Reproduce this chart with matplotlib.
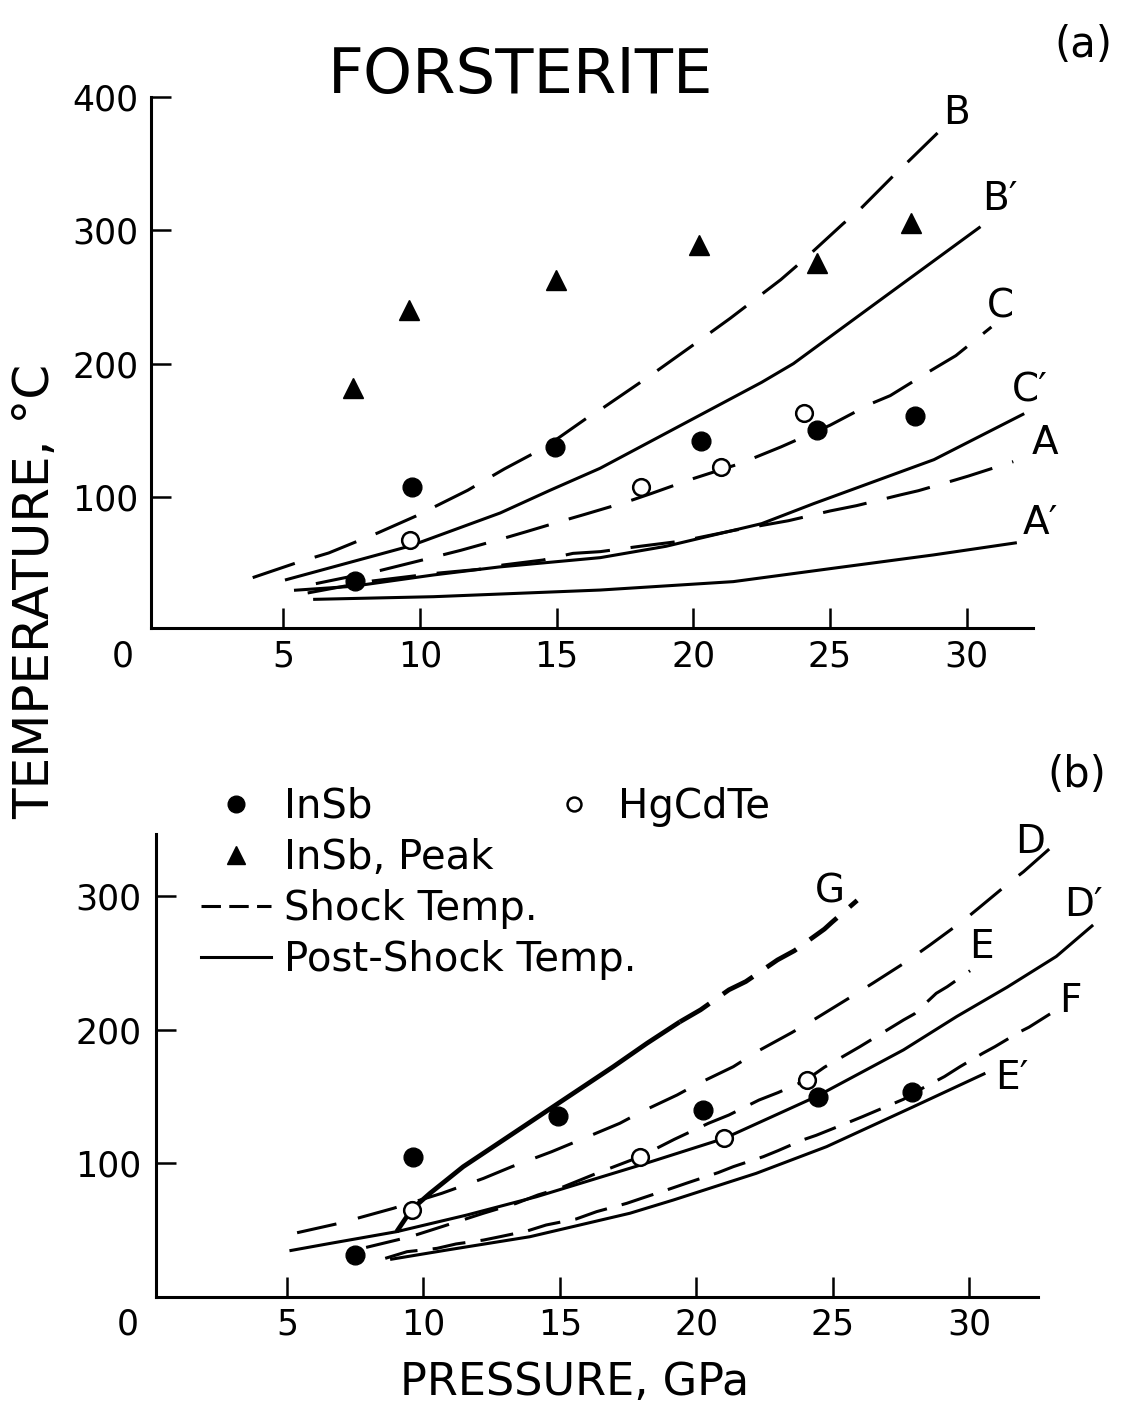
import matplotlib
matplotlib.use("Agg")
import matplotlib.pyplot as plt
from matplotlib.lines import Line2D

plt.rcParams['font.family'] = ['DejaVu Sans']
plt.rcParams['lines.scale_dashes'] = False

# ---------------- data ----------------
pressure_ticks = [5, 10, 15, 20, 25, 30]
temp_ticks_a = [100, 200, 300, 400]
temp_ticks_b = [100, 200, 300]

# panel (a) measurements
a_insb_p = [7.63, 9.70, 14.94, 20.27, 24.54, 28.10]
a_insb_t = [37, 107.7, 137.3, 142.2, 150.2, 160.7]
a_hgcdte_p = [9.64, 18.07, 21.03, 24.06]
a_hgcdte_t = [67.7, 107.7, 122.3, 163.2]
a_peak_p = [7.57, 9.60, 14.98, 20.20, 24.54, 27.96]
a_peak_t = [181.5, 240.2, 262.7, 289.0, 275.2, 305.2]

# panel (a) curves
B_p = [3.89, 5.66, 6.67, 8.46, 9.86, 11.75, 13.09, 14.6, 16.08, 16.57, 18.46, 20.25,
       21.35, 23.2, 24.1, 25.48, 26.06, 27.49, 27.83, 28.93]
B_t = [39.5, 51.8, 58, 73, 85.7, 105, 121, 137.5, 158.8, 165, 191.5, 217.7,
       234, 263, 279, 305, 315, 344.5, 351, 373]
Bp_p = [5.07, 9.64, 12.94, 14.76, 16.59, 22.5, 23.66, 26.5, 28.5, 30.5]
Bp_t = [37.7, 63.2, 88, 105, 121.5, 186, 200, 242.7, 272.7, 302.7]
C_p = [6.2, 8.58, 10.15, 11.5, 12.9, 13.9, 15.2, 16.04, 17.55, 18.45, 20.0, 21.7,
       23.2, 25.0, 26.5, 27.2, 28.7, 29.6, 30.9]
C_t = [35, 45, 53, 60, 68, 74, 82, 87, 96.2, 102.5, 113.8, 125,
       137.5, 153.8, 170, 176, 195, 206, 227.5]
Cp_p = [5.4, 7.55, 10.5, 12.9, 16.6, 19.0, 22.5, 24.4, 28.8, 32.1]
Cp_t = [30, 33, 41.5, 47.5, 54.5, 63, 80, 95, 128, 162.5]
A_p = [5.9, 8.27, 9.68, 10.56, 12.14, 13.05, 14.5, 15.6, 16.6, 18.05, 19.6, 21.5,
       23.48, 25.0, 25.97, 27.56, 28.23, 29.57, 30.06, 31.7]
A_t = [28, 37, 40.5, 42.7, 45.7, 49, 52.7, 57.7, 59, 63, 67, 75,
       82.2, 89.5, 93.5, 101.5, 104.7, 112.7, 115.7, 126.5]
Ap_p = [6.1, 10.5, 16.6, 21.46, 25.1, 28.77, 31.83]
Ap_t = [23.2, 25.2, 30.2, 36.5, 46.5, 56.5, 65.7]

# panel (b) measurements
b_insb_p = [7.51, 9.62, 14.95, 20.24, 24.47, 27.92]
b_insb_t = [31.3, 104.5, 135.5, 140, 149.5, 153.7]
b_hgcdte_p = [9.58, 17.95, 21.03, 24.06]
b_hgcdte_t = [65, 105, 118.7, 162.4]

# panel (b) curves
G_solid_p = [9.02, 9.57, 10.24, 11.46, 12.93, 15.13, 16.96, 18.2, 19.4]
G_solid_t = [48.8, 65.5, 77.5, 97.5, 117.5, 147.5, 172.4, 190, 206]
G_dash_p = [19.4, 20.16, 21.2, 21.82, 22.98, 23.6, 24.7, 24.98, 25.9]
G_dash_t = [206, 215, 230, 236.2, 252.4, 259.3, 275.5, 280.7, 297]
D_p = [5.37, 6.9, 7.43, 8.9, 10.67, 12.2, 13.24, 14.7, 15.74, 17.2, 18.0, 19.3, 20.0,
       21.36, 22.3, 23.5, 24.4, 25.65, 26.5, 27.7, 28.57, 29.85, 30.34, 31.46, 32.0, 32.97]
D_t = [48, 55, 58, 66.3, 77.5, 88.7, 97.5, 108.7, 117.5, 130, 138.7, 151.2, 159,
       172.4, 184.5, 197.9, 208.7, 224.4, 235.3, 251, 263.6, 282.8, 291, 310, 318.5, 336]
Dp_p = [5.09, 6.58, 9.02, 11.6, 14.15, 18.0, 21.03, 24.4, 27.6, 29.55, 31.4, 33.2, 34.55]
Dp_t = [34.5, 40, 48.8, 61.3, 75, 99, 118.7, 150, 185, 210, 232, 255, 278.6]
E_p = [7.9, 9.52, 10.67, 12.2, 13.4, 14.2, 15.0, 16.35, 17.95, 19.2, 20.45, 21.2, 22.3,
       23.0, 24.0, 24.7, 26.0, 26.4, 27.6, 28.0, 28.8, 29.2, 30.04]
E_t = [37, 45, 52.5, 62.6, 70, 76.3, 81.3, 92.5, 105, 118, 130, 136.2, 147.4,
       153, 162, 172, 187.4, 192.4, 207.4, 212, 227.4, 232.3, 244.3]
F_p = [8.6, 9.4, 10.5, 11.2, 12.2, 12.8, 13.8, 14.5, 15.6, 16.35, 17.45, 18.0, 19.1,
       19.7, 20.8, 21.36, 22.46, 23.0, 23.9, 24.4, 25.5, 26.1, 27.6, 28.27, 29.1,
       29.67, 30.5, 30.95, 31.87, 32.2, 33.1]
F_t = [28.8, 33.8, 36.3, 39.6, 42.5, 45, 49.3, 53.8, 58.3, 63.8, 70, 73.8, 81.3,
       85.5, 93, 97.5, 105, 109.5, 117.5, 121, 130, 135, 148, 156, 165,
       172.4, 182.4, 187.4, 198.6, 202, 213.6]
Ep_p = [8.78, 10.85, 13.9, 17.57, 19.16, 21.24, 22.2, 24.78, 27.96, 30.6]
Ep_t = [28, 35, 45, 62.6, 72.5, 86.2, 92.5, 112.5, 142.4, 167.5]

# curve labels (text, pressure, temperature)
labels_a = [("B", 29.64, 387.7), ("B\u2032", 31.2, 323.5), ("C", 31.24, 242.7),
            ("C\u2032", 32.31, 180.2), ("A", 32.86, 140.3), ("A\u2032", 32.68, 80.2)]
labels_b = [("G", 24.9, 303.5), ("D", 32.24, 341), ("D\u2032", 34.19, 293.5),
            ("E", 30.47, 261.9), ("F", 33.7, 221.8), ("E\u2032", 31.57, 163.7)]

# ---------------- figure ----------------
W, H = 1141, 1410
fig = plt.figure(figsize=(W / 100, H / 100), dpi=100)


def make_axes(ox, oy, sx, sy, xlim, ylim):
    left = (ox + xlim[0] * sx) / W
    bottom = (H - oy + ylim[0] * sy) / H
    width = (xlim[1] - xlim[0]) * sx / W
    height = (ylim[1] - ylim[0]) * sy / H
    ax = fig.add_axes([left, bottom, width, height])
    ax.set_xlim(*xlim)
    ax.set_ylim(*ylim)
    ax.patch.set_visible(False)
    return ax


LW = 2.2
DASH_A = (0, (32, 15))
TICKFS = 25
LABFS = 28
LEGFS = 29

axa = make_axes(146.3, 630.3, 27.35, 1.3333, (0, 35), (0, 410))
axb = make_axes(150.6, 1296.8, 27.28, 1.3347, (0, 35.5), (0, 350))


def style_axes(ax, xspine_at, yspine_at, ytop, xend, ypad, xpad, yticks):
    ax.spines['top'].set_visible(False)
    ax.spines['right'].set_visible(False)
    for s in ['left', 'bottom']:
        ax.spines[s].set_linewidth(2.2)
    ax.spines['left'].set_position(('data', yspine_at))
    ax.spines['left'].set_bounds(xspine_at, ytop)
    ax.spines['bottom'].set_position(('data', xspine_at))
    ax.spines['bottom'].set_bounds(yspine_at, xend)
    ax.set_xticks(pressure_ticks)
    ax.set_yticks(yticks)
    ax.tick_params(direction='in', length=14.5, width=1.8, labelsize=TICKFS)
    ax.tick_params(axis='y', pad=ypad)
    ax.tick_params(axis='x', pad=xpad)


style_axes(axa, 1.7, 0.17, 400, 32.42, 9, 8.0, temp_ticks_a)
style_axes(axb, 0.0, 0.18, 346.7, 32.54, 10, 8.0, temp_ticks_b)
axa.text(-0.85, -20, "0", fontsize=TICKFS, ha='center', va='center')
axb.text(-0.85, -21, "0", fontsize=TICKFS, ha='center', va='center')


def curve(ax, p, t, dashed=True, lw=LW, dash=DASH_A):
    ax.plot(p, t, color='black', lw=lw, linestyle=dash if dashed else '-',
            solid_capstyle='butt', dash_capstyle='butt', clip_on=False, zorder=2)


# panel (a) curves
curve(axa, B_p, B_t)
curve(axa, Bp_p, Bp_t, dashed=False)
curve(axa, C_p, C_t)
curve(axa, Cp_p, Cp_t, dashed=False)
curve(axa, A_p, A_t)
curve(axa, Ap_p, Ap_t, dashed=False)

# panel (b) curves
curve(axb, G_solid_p, G_solid_t, dashed=False, lw=3.4)
curve(axb, G_dash_p, G_dash_t, lw=3.4, dash=(0, (25, 12)))
curve(axb, D_p, D_t, dash=(0, (29, 16)))
curve(axb, Dp_p, Dp_t, dashed=False)
curve(axb, E_p, E_t, dash=(0, (25, 12)))
curve(axb, F_p, F_t, dash=(0, (24, 11)))
curve(axb, Ep_p, Ep_t, dashed=False)


def points(ax, ip, it, hp, ht, pp=None, pt=None):
    ax.plot(ip, it, 'o', color='black', markersize=13.5, zorder=4, clip_on=False)
    ax.plot(hp, ht, 'o', markerfacecolor='white', markeredgecolor='black',
            markeredgewidth=1.8, markersize=12, zorder=4, clip_on=False)
    if pp is not None:
        ax.plot(pp, pt, '^', color='black', markersize=15, zorder=4, clip_on=False)


points(axa, a_insb_p, a_insb_t, a_hgcdte_p, a_hgcdte_t, a_peak_p, a_peak_t)
points(axb, b_insb_p, b_insb_t, b_hgcdte_p, b_hgcdte_t)

for txt, p, t in labels_a:
    axa.text(p, t, txt, fontsize=LABFS, ha='center', va='center')
for txt, p, t in labels_b:
    axb.text(p, t, txt, fontsize=LABFS, ha='center', va='center')

# titles and axis labels
fig.text(521 / W, 1 - 76 / H, "FORSTERITE", fontsize=45, ha='center', va='center')
fig.text(1083 / W, 1 - 45 / H, "(a)", fontsize=30, ha='center', va='center')
fig.text(1077 / W, 1 - 775 / H, "(b)", fontsize=30, ha='center', va='center')
fig.text(35 / W, 1 - 591 / H, "TEMPERATURE, \u00b0C", fontsize=36, rotation=90,
         ha='center', va='center')
fig.text(575 / W, 1 - 1382 / H, "PRESSURE, GPa", fontsize=32, ha='center', va='center')

# legends
h_insb = Line2D([], [], marker='o', color='black', linestyle='none', markersize=12)
h_peak = Line2D([], [], marker='^', color='black', linestyle='none', markersize=13)
h_shock = Line2D([], [], color='black', lw=LW, linestyle=(0, (14, 6)))
h_post = Line2D([], [], color='black', lw=LW)
h_hg = Line2D([], [], marker='o', markerfacecolor='white', markeredgecolor='black',
              markeredgewidth=1.8, linestyle='none', markersize=10)

leg1 = fig.legend([h_insb, h_peak, h_shock, h_post],
                  ["InSb", "InSb, Peak", "Shock Temp.", "Post-Shock Temp."],
                  loc='upper left', bbox_to_anchor=(201 / W, 1 - 787 / H),
                  frameon=False, fontsize=LEGFS, handlelength=1.75, handletextpad=0.3,
                  labelspacing=0.27, borderpad=0, borderaxespad=0)
leg2 = fig.legend([h_hg], ["HgCdTe"], loc='upper left',
                  bbox_to_anchor=(554 / W, 1 - 787 / H), frameon=False, fontsize=LEGFS,
                  handlelength=1.0, handletextpad=0.6, borderpad=0, borderaxespad=0)

fig.savefig("out.png", dpi=100)
